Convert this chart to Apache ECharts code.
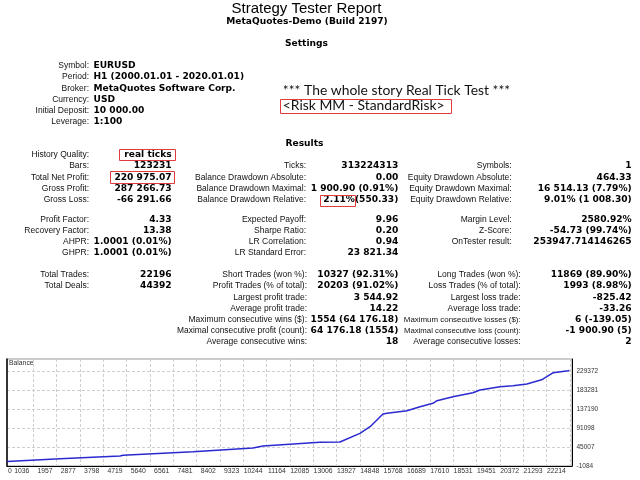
<!DOCTYPE html>
<html><head><meta charset="utf-8">
<script src="https://cdn.jsdelivr.net/npm/echarts@6/dist/echarts.min.js"></script>
<style>html,body{margin:0;padding:0;background:#fff}#c{width:640px;height:480px}</style>
</head><body><div id="c"></div>
<script>
// ---------- data ----------
const reportTitle = 'Strategy Tester Report';
const reportSubtitle = 'MetaQuotes-Demo (Build 2197)';
const sectionSettings = 'Settings';
const sectionResults = 'Results';
const settingsLabels = ['Symbol:', 'Period:', 'Broker:', 'Currency:', 'Initial Deposit:', 'Leverage:'];
const settingsValues = ['EURUSD', 'H1 (2000.01.01 - 2020.01.01)', 'MetaQuotes Software Corp.', 'USD', '10 000.00', '1:100'];
const noteLines = ['*** The whole story Real Tick Test ***', '<Risk MM - StandardRisk>'];

const col1Labels = ['History Quality:', 'Bars:', 'Total Net Profit:', 'Gross Profit:', 'Gross Loss:',
  'Profit Factor:', 'Recovery Factor:', 'AHPR:', 'GHPR:',
  'Total Trades:', 'Total Deals:', '', '', '', '', ''];
const col1Values = ['real ticks', '123231', '220 975.07', '287 266.73', '-66 291.66',
  '4.33', '13.38', '1.0001 (0.01%)', '1.0001 (0.01%)',
  '22196', '44392', '', '', '', '', ''];
const col2Labels = ['', 'Ticks:', 'Balance Drawdown Absolute:', 'Balance Drawdown Maximal:', 'Balance Drawdown Relative:',
  'Expected Payoff:', 'Sharpe Ratio:', 'LR Correlation:', 'LR Standard Error:',
  'Short Trades (won %):', 'Profit Trades (% of total):', 'Largest profit trade:', 'Average profit trade:',
  'Maximum consecutive wins ($):', 'Maximal consecutive profit (count):', 'Average consecutive wins:'];
const col2Values = ['', '313224313', '0.00', '1 900.90 (0.91%)', '2.11%(550.33)',
  '9.96', '0.20', '0.94', '23 821.34',
  '10327 (92.31%)', '20203 (91.02%)', '3 544.92', '14.22',
  '1554 (64 176.18)', '64 176.18 (1554)', '18'];
const col3Labels = ['', 'Symbols:', 'Equity Drawdown Absolute:', 'Equity Drawdown Maximal:', 'Equity Drawdown Relative:',
  'Margin Level:', 'Z-Score:', 'OnTester result:', '',
  'Long Trades (won %):', 'Loss Trades (% of total):', 'Largest loss trade:', 'Average loss trade:',
  'Maximum consecutive losses ($):', 'Maximal consecutive loss (count):', 'Average consecutive losses:'];
const col3Values = ['', '1', '464.33', '16 514.13 (7.79%)', '9.01% (1 008.30)',
  '2580.92%', '-54.73 (99.74%)', '253947.714146265', '',
  '11869 (89.90%)', '1993 (8.98%)', '-825.42', '-33.26',
  '6 (-139.05)', '-1 900.90 (5)', '2'];

const chartTitle = 'Balance';
const xTicks = [0, 1036, 1957, 2877, 3798, 4719, 5640, 6561, 7481, 8402, 9323, 10244, 11164, 12085,
  13006, 13927, 14848, 15768, 16689, 17610, 18531, 19451, 20372, 21293, 22214];
const yTicks = [-1084, 45007, 91098, 137190, 183281, 229372];
const balanceX = [0, 2090, 4460, 4580, 7340, 9710, 10100, 12350, 13140, 13930, 14330, 14840, 15000,
  15790, 16300, 16810, 16970, 17600, 18390, 18670, 19460, 19970, 20520, 21100, 21560, 22150, 22196];
const balanceY = [10000, 16600, 23200, 24900, 33600, 42600, 47400, 56400, 57100, 78200, 94300, 125100, 126800,
  133100, 142800, 151000, 157300, 167000, 176700, 183300, 191300, 193700, 197800, 208000, 225200, 230000, 230975];

// ---------- layout / styles ----------
const LABEL_FONT = {fontSize: 8.5, fontFamily: '"Liberation Sans", Arial, sans-serif', fontWeight: 'normal'};
const BOLD_FONT = {fontSize: 9.1, fontFamily: '"DejaVu Sans", Verdana, sans-serif', fontWeight: 'bold'};
const NOTE_FONT = {fontSize: 13.9, fontFamily: 'Lato, "Open Sans", sans-serif', fontWeight: 'normal'};
const BOX_COLOR = '#e23b3b';

const mctx = document.createElement('canvas').getContext('2d');
function tw(text, f) {
  mctx.font = f.fontWeight + ' ' + f.fontSize + 'px ' + f.fontFamily;
  return mctx.measureText(text).width;
}

const g = [];
function txt(text, x, y, align, f, fill, maxW) {
  if (!text) return;
  let font = f;
  if (maxW) {
    const w = tw(text, f);
    if (w > maxW) font = Object.assign({}, f, {fontSize: f.fontSize * maxW / w});
  }
  g.push({type: 'text', x: x, y: y, silent: true,
    style: Object.assign({text: text, align: align, verticalAlign: 'middle', fill: fill || '#000'}, font)});
}
function box(x1, y1, x2, y2) {
  g.push({type: 'rect', silent: true,
    shape: {x: Math.round(x1) + 0.5, y: Math.round(y1) + 0.5, width: Math.round(x2 - x1), height: Math.round(y2 - y1)},
    style: {fill: 'none', stroke: BOX_COLOR, lineWidth: 1}});
}

// header
txt(reportTitle, 306.5, 8.8, 'center', {fontSize: 15, fontFamily: '"Liberation Sans", Arial, sans-serif', fontWeight: 'normal'});
txt(reportSubtitle, 307, 22, 'center', BOLD_FONT);
txt(sectionSettings, 306.5, 43.3, 'center', BOLD_FONT);
txt(sectionResults, 304.5, 144, 'center', BOLD_FONT);

// settings
settingsLabels.forEach(function (l, i) {
  const y = 65.8 + 11.25 * i;
  txt(l, 89, y, 'right', LABEL_FONT, '#111');
  txt(settingsValues[i], 93.5, y, 'left', BOLD_FONT);
});

// note
txt(noteLines[0], 282.8, 90.7, 'left', NOTE_FONT, '#111');
txt(noteLines[1], 282.8, 105.5, 'left', NOTE_FONT, '#111');
box(279.5, 98.5, 282.8 + tw(noteLines[1], NOTE_FONT) + 6, 112.5);

// results rows
const rowY = [];
[[154.5, 5, 11.4], [219.5, 4, 11.1], [275, 7, 11.1]].forEach(function (b) {
  for (let i = 0; i < b[1]; i++) rowY.push(b[0] + b[2] * i);
});
rowY.forEach(function (y, r) {
  const bottom = r >= 9;
  txt(col1Labels[r], 89, y, 'right', LABEL_FONT, '#111');
  txt(col1Values[r], 171.7, y, 'right', BOLD_FONT);
  txt(col2Labels[r], bottom ? 307 : 306, y, 'right', LABEL_FONT, '#111', 130);
  txt(col2Values[r], 398.3, y, 'right', BOLD_FONT);
  txt(col3Labels[r], bottom ? 520.7 : 511.7, y, 'right', LABEL_FONT, '#111', 117);
  txt(col3Values[r], 631.7, y, 'right', BOLD_FONT);
});
// highlight boxes
(function () {
  let w = tw(col1Values[0], BOLD_FONT);
  box(171.7 - w - 5, rowY[0] - 5.5, 175.7, rowY[0] + 5.5);
  w = tw(col1Values[2], BOLD_FONT);
  box(171.7 - w - 4, rowY[2] - 6, 174.5, rowY[2] + 6);
  const full = tw(col2Values[4], BOLD_FONT);
  const tail = tw(col2Values[4].slice(col2Values[4].indexOf('(')), BOLD_FONT);
  box(398.3 - full - 3, rowY[4] - 5.5, 398.3 - tail + 0.5, rowY[4] + 5.5);
})();

const balanceData = balanceX.map(function (x, i) { return [x, balanceY[i]]; });
const gridLine = {show: true, lineStyle: {color: '#cfcfcf', type: [3, 2], width: 1}};
const axisFont = {fontSize: 6.8, color: '#333', fontFamily: '"Liberation Sans", Arial, sans-serif'};
const fmt = function (v) { return String(Math.round(v)); };

const chart = echarts.init(document.getElementById('c'), null, {renderer: 'canvas', width: 640, height: 480});
chart.setOption({
  animation: false,
  backgroundColor: '#fff',
  title: {text: chartTitle, left: 9, top: 360, padding: 0,
    textStyle: {fontSize: 6.8, fontWeight: 'normal', color: '#333', fontFamily: '"Liberation Sans", Arial, sans-serif'}},
  grid: {left: 7, right: 68, top: 359, bottom: 14, show: true, borderColor: '#999', borderWidth: 1},
  xAxis: [{
    type: 'value', min: 0, max: 22300, position: 'bottom',
    axisLine: {show: true, onZero: false, lineStyle: {color: '#000', width: 1}},
    axisTick: {show: false, customValues: xTicks.slice(1)},
    axisLabel: Object.assign({customValues: xTicks.slice(1), align: 'right', padding: [0, 4, 0, 0], margin: 2, formatter: fmt}, axisFont),
    splitLine: gridLine
  }, {
    type: 'value', min: 0, max: 22300, position: 'bottom',
    axisLine: {show: false, onZero: false}, axisTick: {show: false}, splitLine: {show: false},
    axisLabel: Object.assign({customValues: [xTicks[0]], align: 'left', padding: [0, 0, 0, 1], margin: 2, formatter: fmt}, axisFont)
  }],
  yAxis: [{
    type: 'value', min: -1084, max: 258500, position: 'right',
    axisLine: {show: true, onZero: false, lineStyle: {color: '#000', width: 1}},
    axisTick: {show: false, customValues: yTicks},
    axisLabel: Object.assign({customValues: yTicks, margin: 4.5, formatter: fmt}, axisFont, {fontSize: 6.5}),
    splitLine: gridLine
  }, {
    type: 'value', min: -1084, max: 258500, position: 'left',
    axisLine: {show: true, onZero: false, lineStyle: {color: '#000', width: 1.5}},
    axisTick: {show: false}, axisLabel: {show: false}, splitLine: {show: false}
  }],
  series: [{
    type: 'line', xAxisIndex: 0, yAxisIndex: 0, data: balanceData, showSymbol: false, symbol: 'none',
    lineStyle: {color: '#2a2ad0', width: 1.5}, itemStyle: {color: '#2a2ad0'}
  }],
  graphic: g
});
</script>
</body></html>
